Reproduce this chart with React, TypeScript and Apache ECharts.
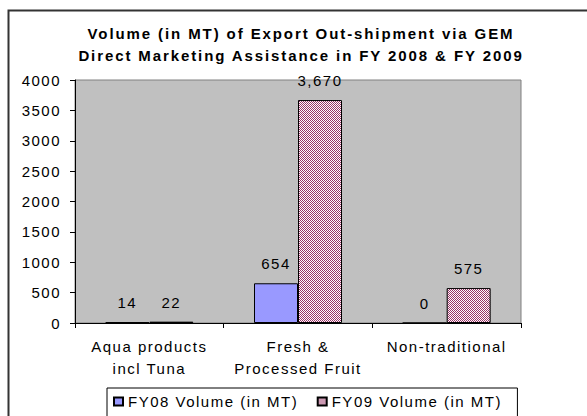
import React, { useEffect, useRef } from "react";
import * as echarts from "echarts";

const titleLines = [
  "Volume (in MT) of Export Out-shipment via GEM",
  "Direct Marketing Assistance in FY 2008 & FY 2009",
];
const categories = ["Aqua products\nincl Tuna", "Fresh &\nProcessed Fruit", "Non-traditional"];
const seriesNames = ["FY08 Volume (in MT)", "FY09 Volume (in MT)"];
const fy08Values = [14, 654, 0];
const fy09Values = [22, 3670, 575];
const yMin = 0;
const yMax = 4000;
const yInterval = 500;

const FONT = "'Liberation Sans', Arial, sans-serif";

function makePattern(): HTMLCanvasElement {
  const c = document.createElement("canvas");
  c.width = 2;
  c.height = 2;
  const ctx = c.getContext("2d")!;
  ctx.fillStyle = "#ffffff";
  ctx.fillRect(0, 0, 2, 2);
  ctx.fillStyle = "#993366";
  ctx.fillRect(0, 0, 1, 1);
  ctx.fillRect(1, 1, 1, 1);
  return c;
}

const css = `
#chart-box text { letter-spacing: 1.5px; }
#chart-box text[style*="bold"] { letter-spacing: 1.9px; }
`;

export default function App() {
  const ref = useRef<HTMLDivElement>(null);
  useEffect(() => {
    document.body.style.margin = "0";
    if (!ref.current) return;
    const chart = echarts.init(ref.current, null, { renderer: "svg" });
    const pattern = { image: makePattern(), repeat: "repeat" };
    const labelCfg = {
      show: true,
      position: "top",
      distance: 12,
      fontFamily: FONT,
      fontSize: 15,
      color: "#000",
      formatter: (p: any) => Number(p.value).toLocaleString("en-US"),
    };
    chart.setOption({
      animation: false,
      backgroundColor: "#ffffff",
      graphic: [
        {
          type: "rect",
          shape: { x: 8.5, y: 10.5, width: 620, height: 440 },
          style: { fill: "none", stroke: "#333333", lineWidth: 2 },
          silent: true,
        },
        {
          type: "text",
          x: 301,
          y: 33,
          style: {
            text: titleLines[0],
            fontFamily: FONT,
            fontWeight: "bold",
            fontSize: 15,
            fill: "#000",
            textAlign: "center",
            textVerticalAlign: "middle",
          },
        },
        {
          type: "text",
          x: 301,
          y: 55,
          style: {
            text: titleLines[1],
            fontFamily: FONT,
            fontWeight: "bold",
            fontSize: 15,
            fill: "#000",
            textAlign: "center",
            textVerticalAlign: "middle",
          },
        },
      ],
      grid: {
        left: 75,
        top: 80,
        width: 446,
        height: 243,
        show: true,
        backgroundColor: "#c0c0c0",
        borderColor: "#808080",
        borderWidth: 1,
      },
      legend: {
        left: 107,
        top: 388,
        orient: "horizontal",
        icon: "rect",
        itemWidth: 9,
        itemHeight: 8,
        itemGap: 47,
        padding: [6, 44, 12, 6],
        borderColor: "#000",
        borderWidth: 1,
        backgroundColor: "#fff",
        textStyle: { fontFamily: FONT, fontSize: 15, color: "#000" },
        data: seriesNames,
      },
      xAxis: {
        type: "category",
        data: categories,
        axisLine: { show: true, lineStyle: { color: "#000", width: 1 } },
        axisTick: { show: true, length: 5, alignWithLabel: false, lineStyle: { color: "#000" } },
        axisLabel: {
          fontFamily: FONT,
          fontSize: 15,
          color: "#000",
          lineHeight: 22,
          margin: 12,
          interval: 0,
        },
        splitLine: { show: false },
      },
      yAxis: {
        type: "value",
        min: yMin,
        max: yMax,
        interval: yInterval,
        axisLine: { show: true, lineStyle: { color: "#000", width: 1 } },
        axisTick: { show: true, length: 5, lineStyle: { color: "#000" } },
        axisLabel: {
          fontFamily: FONT,
          fontSize: 15,
          color: "#000",
          margin: 14,
          formatter: (v: number) => String(v),
        },
        splitLine: { show: false },
      },
      series: [
        {
          name: seriesNames[0],
          type: "bar",
          data: fy08Values,
          barWidth: 44,
          barGap: "0%",
          itemStyle: { color: "#9999ff", borderColor: "#000", borderWidth: 1 },
          label: labelCfg,
        },
        {
          name: seriesNames[1],
          type: "bar",
          data: fy09Values,
          barWidth: 44,
          barGap: "0%",
          itemStyle: { color: pattern, borderColor: "#000", borderWidth: 1 },
          label: labelCfg,
        },
      ],
    });
    return () => chart.dispose();
  }, []);
  return (
    <>
      <style>{css}</style>
      <div id="chart-box" ref={ref} style={{ width: 587, height: 416 }} />
    </>
  );
}
